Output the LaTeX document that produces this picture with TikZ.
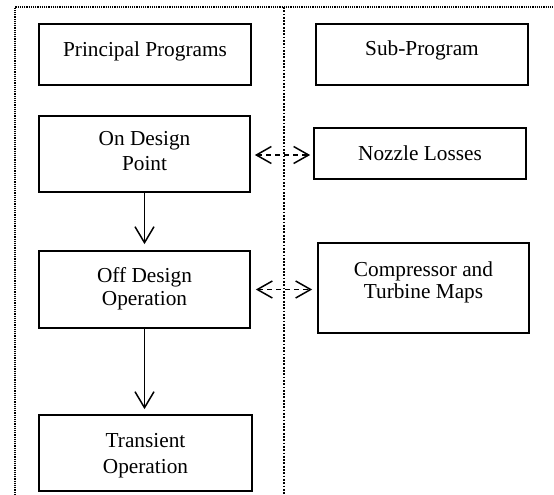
\documentclass[tikz,border=0pt]{standalone}
\usepackage{fontspec}
\setmainfont{Liberation Serif}
\usetikzlibrary{arrows.meta}
\begin{document}
\begin{tikzpicture}[x=1pt,y=-1pt,
  box/.style={draw, inner sep=0pt, line width=1.7pt},
  headbox/.style={box, line width=2.5pt},
  txt/.style={inner sep=0pt, anchor=north, align=center, font=\fontsize{21.3}{24}\selectfont},
  flow/.style={line width=1.5pt, -{Straight Barb[length=16pt,width=19pt,line width=1.5pt]}},
  link/.style={line width=1.5pt, dash pattern=on 5pt off 4pt,
    {Straight Barb[length=15pt,width=17pt,line width=1.5pt]}-{Straight Barb[length=15pt,width=17pt,line width=1.5pt]}},
  frame/.style={line width=1.2pt, dash pattern=on 1.2pt off 1pt},
  divider/.style={line width=1.8pt, dash pattern=on 1.8pt off 1.5pt}]
\useasboundingbox (0,0) rectangle (554,495);

% dotted frame and column divider
\coordinate (tl) at (15,7);
\coordinate (tr) at (554,7);
\coordinate (bl) at (15,495);
\coordinate (mt) at (284,7);
\coordinate (mb) at (284,495);
\draw[frame] (bl) -- (tl) -- (tr);
\draw[divider] (mt) -- (mb);

% column headings
\node[headbox, minimum width=212pt, minimum height=61pt] (pp) at (145,54.5) {};
\node[txt] (ppt) at (145,56.5-14.5) {Principal Programs};
\node[headbox, minimum width=212pt, minimum height=61pt] (sp) at (422,54.5) {};
\node[txt] (spt) at (422,55.5-14.5) {Sub-Program};

% principal programs
\node[box, minimum width=211pt, minimum height=76pt] (odp) at (144.5,154) {};
\node[txt, font=\fontsize{21.3}{25}\selectfont] (odpt) at (144.5,146-14.5) {On Design\\Point};
\node[box, minimum width=211pt, minimum height=77pt] (odo) at (144.5,289.5) {};
\node[txt, font=\fontsize{21.3}{23.5}\selectfont] (odot) at (144.5,281.7-14.5) {Off Design\\Operation};
\node[box, minimum width=213pt, minimum height=76pt] (to) at (145.5,453) {};
\node[txt, font=\fontsize{21.3}{25.5}\selectfont] (tot) at (145.5,447.7-14.5) {Transient\\Operation};

% sub-programs
\node[box, minimum width=212pt, minimum height=51pt] (nl) at (420,153.5) {};
\node[txt] (nlt) at (420,160-14.5) {Nozzle Losses};
\node[box, minimum width=211pt, minimum height=90pt] (ctm) at (423.5,288) {};
\node[txt, font=\fontsize{21.3}{22.8}\selectfont] (ctmt) at (423.5,275.7-14.5) {Compressor and\\Turbine Maps};

% program flow
\draw[flow, shorten >=6pt] (odp.south) -- (odp.south |- odo.north);
\draw[flow, shorten >=5pt] (odo.south) -- (odo.south |- to.north);

% calls to sub-programs
\draw[link, shorten <=4pt, shorten >=3pt] ([yshift=-1pt]odp.east) -- ([yshift=-1pt]odp.east -| nl.west);
\draw[link, shorten <=5pt, shorten >=5pt] (odo.east) -- (odo.east -| ctm.west);
\end{tikzpicture}
\end{document}
